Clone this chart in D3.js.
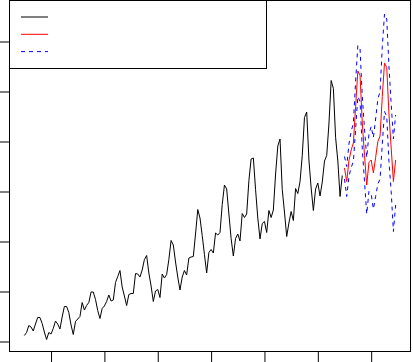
<!DOCTYPE html>
<html>
<head>
<meta charset="utf-8">
<script src="https://cdn.jsdelivr.net/npm/d3@7"></script>
<style>
  html, body { margin: 0; padding: 0; background: #fff; }
  svg { display: block; }
</style>
</head>
<body>
<div id="chart"></div>
<script>
// ── Data ──────────────────────────────────────────────────────────────────────
const START_YEAR = 1949;
const passengers = [
  112, 118, 132, 129, 121, 135, 148, 148, 136, 119, 104, 118,
  115, 126, 141, 135, 125, 149, 170, 170, 158, 133, 114, 140,
  145, 150, 178, 163, 172, 178, 199, 199, 184, 162, 146, 166,
  171, 180, 193, 181, 183, 218, 230, 242, 209, 191, 172, 194,
  196, 196, 236, 235, 229, 243, 264, 272, 237, 211, 180, 201,
  204, 188, 235, 227, 234, 264, 302, 293, 259, 229, 203, 229,
  242, 233, 267, 269, 270, 315, 364, 347, 312, 274, 237, 278,
  284, 277, 317, 313, 318, 374, 413, 405, 355, 306, 271, 306,
  315, 301, 356, 348, 355, 422, 465, 467, 404, 347, 305, 336,
  340, 318, 362, 348, 363, 435, 491, 505, 404, 359, 310, 337,
  360, 342, 406, 396, 420, 472, 548, 559, 463, 407, 362, 405,
  417, 391, 419, 461, 472, 535, 622, 606, 508, 461, 390, 432
];
const forecast = [
  447, 420, 462, 483, 497, 570, 641, 632, 537, 472, 413, 458,
  463, 437, 468, 500, 511, 590, 657, 648, 555, 487, 420, 463
];
const upper = [
  470, 450, 495, 520, 537, 620, 692, 685, 590, 525, 468, 515,
  530, 508, 545, 585, 600, 690, 755, 745, 650, 575, 505, 553
];
const lower = [
  425, 390, 430, 448, 460, 525, 590, 580, 485, 420, 355, 400,
  395, 365, 390, 415, 425, 495, 560, 550, 460, 400, 320, 373
];
const xTicks = [1950, 1952, 1954, 1956, 1958, 1960, 1962];
const yTicks = [100, 200, 300, 400, 500, 600, 700];

// ── Dimensions ────────────────────────────────────────────────────────────────
const W = 413, H = 362;
const box = { left: 9.5, right: 410.5, top: 0.5, bottom: 351.5 };

const svg = d3.select("#chart").append("svg")
  .attr("width", W).attr("height", H);

// ── Scales ────────────────────────────────────────────────────────────────────
const x = d3.scaleLinear().domain([1948.443, 1963.474]).range([box.left, box.right]);
const y = d3.scaleLinear().domain([80, 782]).range([box.bottom, box.top]);

const toPts = (vals, offset) => vals.map((v, i) => ({ t: START_YEAR + (offset + i) / 12, v }));
const line = d3.line().x(d => x(d.t)).y(d => y(d.v));

// ── Axes (ticks only, labels are off-canvas) ──────────────────────────────────
svg.append("g")
  .attr("transform", `translate(0,${box.bottom})`)
  .call(d3.axisBottom(x).tickValues(xTicks).tickSize(11).tickFormat(""))
  .call(g => g.select(".domain").remove())
  .selectAll("line").attr("stroke", "#000");

svg.append("g")
  .attr("transform", `translate(${box.left},0)`)
  .call(d3.axisLeft(y).tickValues(yTicks).tickSize(10).tickFormat(""))
  .call(g => g.select(".domain").remove())
  .selectAll("line").attr("stroke", "#000");

// ── Series ────────────────────────────────────────────────────────────────────
svg.append("path").datum(toPts(passengers, 0))
  .attr("d", line).attr("fill", "none")
  .attr("stroke", "#000").attr("stroke-width", 1);

[upper, lower].forEach(arr => {
  svg.append("path").datum(toPts(arr, passengers.length))
    .attr("d", line).attr("fill", "none")
    .attr("stroke", "#0000ff").attr("stroke-width", 1)
    .attr("stroke-dasharray", "4,4");
});

svg.append("path").datum(toPts(forecast, passengers.length))
  .attr("d", line).attr("fill", "none")
  .attr("stroke", "#ff0000").attr("stroke-width", 1);

// ── Plot frame ────────────────────────────────────────────────────────────────
svg.append("rect")
  .attr("x", box.left).attr("y", box.top)
  .attr("width", box.right - box.left).attr("height", box.bottom - box.top)
  .attr("fill", "none").attr("stroke", "#000").attr("stroke-width", 1);

// ── Legend ────────────────────────────────────────────────────────────────────
const legend = svg.append("g");
legend.append("rect")
  .attr("x", box.left).attr("y", box.top)
  .attr("width", 257).attr("height", 68)
  .attr("fill", "#fff").attr("stroke", "#000").attr("stroke-width", 1);

const legendItems = [
  { color: "#000", dash: null },
  { color: "#ff0000", dash: null },
  { color: "#0000ff", dash: "4,4" }
];
legendItems.forEach((d, i) => {
  const ly = 17 + i * 17.3;
  legend.append("line")
    .attr("x1", 21).attr("x2", 48).attr("y1", ly).attr("y2", ly)
    .attr("stroke", d.color).attr("stroke-width", 1)
    .attr("stroke-dasharray", d.dash);
});
</script>
</body>
</html>
